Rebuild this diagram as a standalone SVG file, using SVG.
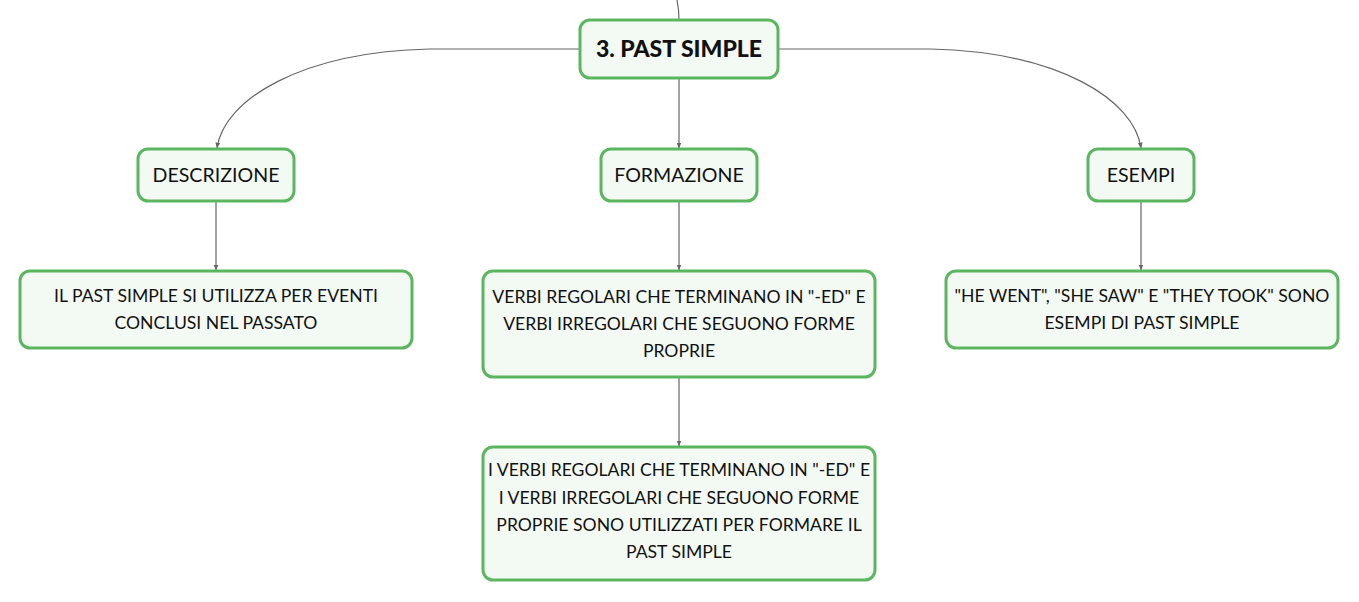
<svg xmlns="http://www.w3.org/2000/svg" width="1359" height="602" viewBox="0 0 1359 602">
<defs>
<marker id="arr" viewBox="0 0 10 10" refX="9" refY="5" markerWidth="5" markerHeight="5" orient="auto">
<path d="M0,1 L10,5 L0,9 z" fill="#666"/>
</marker>
<style>
.box{fill:#f3faf3;stroke:#5cb660;stroke-width:3}
.t{font-family:Lato,"Noto Sans",sans-serif;fill:#111;text-anchor:middle}
.leaf{font-size:17.6px}
.mid{font-size:19.6px}
.root{font-size:23px;font-weight:900}
.c{fill:none;stroke:#666;stroke-width:1.2}
</style>
</defs>
<rect width="1359" height="602" fill="#fff"/>
<g id="connectors">
<path class="c" d="M677,0 Q679,10 679,20"/>
<path class="c" d="M580,49 L430,49 C300,52 224,100 217,148" marker-end="url(#arr)"/>
<path class="c" d="M778,49 L930,49 C1060,52 1134,100 1141,148" marker-end="url(#arr)"/>
<path class="c" d="M679,78 L679,148" marker-end="url(#arr)"/>
<path class="c" d="M216,201 L216,270" marker-end="url(#arr)"/>
<path class="c" d="M679,201 L679,270" marker-end="url(#arr)"/>
<path class="c" d="M1141,201 L1141,270" marker-end="url(#arr)"/>
<path class="c" d="M679,377 L679,446" marker-end="url(#arr)"/>
</g>
<g id="root">
<rect class="box" x="580" y="20" width="198" height="58" rx="10"/>
<text class="t root" x="679" y="57">3. PAST SIMPLE</text>
</g>
<g id="descrizione">
<rect class="box" x="138" y="149" width="156" height="52" rx="10"/>
<text class="t mid" x="216" y="182">DESCRIZIONE</text>
</g>
<g id="formazione">
<rect class="box" x="601" y="149" width="156" height="52" rx="10"/>
<text class="t mid" x="679" y="182">FORMAZIONE</text>
</g>
<g id="esempi">
<rect class="box" x="1088" y="149" width="106" height="52" rx="10"/>
<text class="t mid" x="1141" y="182">ESEMPI</text>
</g>
<g id="leaf-descrizione">
<rect class="box" x="20" y="271" width="392" height="77" rx="10"/>
<text class="t leaf" x="216" y="302">IL PAST SIMPLE SI UTILIZZA PER EVENTI</text>
<text class="t leaf" x="216" y="329">CONCLUSI NEL PASSATO</text>
</g>
<g id="leaf-formazione">
<rect class="box" x="483" y="271" width="392" height="106" rx="10"/>
<text class="t leaf" x="679" y="303">VERBI REGOLARI CHE TERMINANO IN "-ED" E</text>
<text class="t leaf" x="679" y="330">VERBI IRREGOLARI CHE SEGUONO FORME</text>
<text class="t leaf" x="679" y="357">PROPRIE</text>
</g>
<g id="leaf-esempi">
<rect class="box" x="946" y="271" width="392" height="77" rx="10"/>
<text class="t leaf" x="1142" y="302">"HE WENT", "SHE SAW" E "THEY TOOK" SONO</text>
<text class="t leaf" x="1142" y="329">ESEMPI DI PAST SIMPLE</text>
</g>
<g id="leaf-formazione-2">
<rect class="box" x="483" y="447" width="392" height="133" rx="10"/>
<text class="t leaf" x="679" y="476">I VERBI REGOLARI CHE TERMINANO IN "-ED" E</text>
<text class="t leaf" x="679" y="504">I VERBI IRREGOLARI CHE SEGUONO FORME</text>
<text class="t leaf" x="679" y="531">PROPRIE SONO UTILIZZATI PER FORMARE IL</text>
<text class="t leaf" x="679" y="558">PAST SIMPLE</text>
</g>
</svg>
